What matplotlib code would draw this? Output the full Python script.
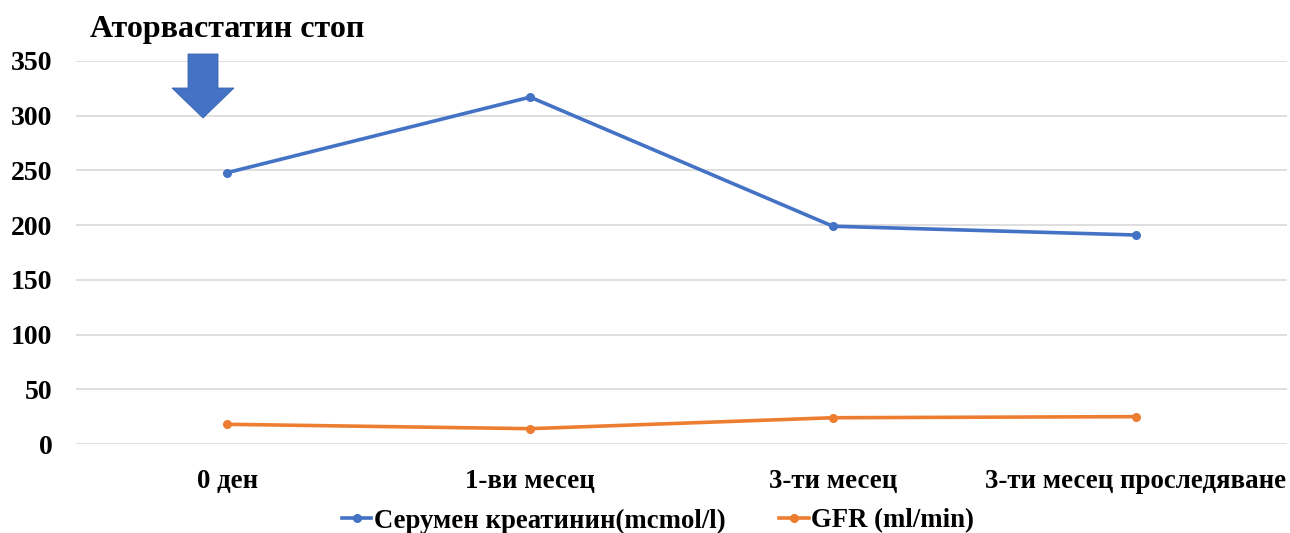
import matplotlib.pyplot as plt
import matplotlib.patches as mpatches

plt.rcParams['font.family'] = ['Liberation Serif', 'DejaVu Serif']
plt.rcParams['font.weight'] = 'bold'

periods = ['0 ден', '1-ви месец', '3-ти месец', '3-ти месец проследяване']
creatinine = [248, 317, 199, 191]
gfr = [18, 14, 24, 25]
yticks = [0, 50, 100, 150, 200, 250, 300, 350]

blue = '#4472C4'
orange = '#ED7D31'

fig = plt.figure(figsize=(12.9, 5.33), dpi=100)
ax = fig.add_axes([76/1290, 1 - 444/533, 1211/1290, 383/533])

x = range(len(periods))
ax.plot(x, creatinine, color=blue, linewidth=2.6, marker='o', markersize=5.5,
        label='Серумен креатинин(mcmol/l)')
ax.plot(x, gfr, color=orange, linewidth=2.6, marker='o', markersize=5.5,
        label='GFR (ml/min)')

ax.set_xlim(-0.5, len(periods) - 0.5)
ax.set_ylim(0, 350)
ax.set_yticks(yticks)
ax.set_xticks(list(x))
ax.set_xticklabels(periods)
ax.tick_params(axis='y', length=0, pad=17, labelsize=20)
ax.tick_params(axis='x', length=0, pad=18, labelsize=19.4)
ax.grid(axis='y', color='#D9D9D9', linewidth=1.2)
ax.set_axisbelow(True)
for s in ax.spines.values():
    s.set_visible(False)

# arrow marking when atorvastatin was stopped (pixel points, y from top)
pts = [(188, 54), (218, 54), (218, 88), (234, 88), (203, 118), (172, 88), (188, 88)]
arrow = mpatches.Polygon([(px / 100, (533 - py) / 100) for px, py in pts],
                         closed=True, facecolor=blue, edgecolor='#3A64B0',
                         linewidth=0.6, transform=fig.dpi_scale_trans)
fig.patches.append(arrow)

fig.text(90/1290, 1 - 29/533, 'Аторвастатин стоп', fontsize=23, fontweight='bold',
         ha='left', va='center')

fig.legend(loc='center', bbox_to_anchor=(658/1290, 1 - 521/533), ncol=2,
           frameon=False, fontsize=19.3, handlelength=1.1, handletextpad=0.1,
           columnspacing=2.0)

fig.savefig('out.png', dpi=100)
